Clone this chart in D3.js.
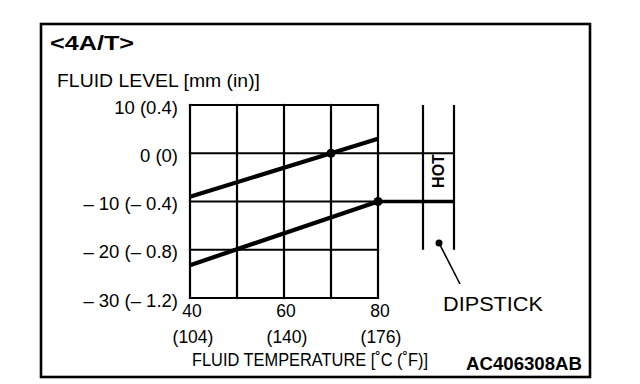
<!DOCTYPE html>
<html><head><meta charset="utf-8">
<script src="https://cdn.jsdelivr.net/npm/d3@7"></script>
<style>html,body{margin:0;padding:0;background:#fff}svg{display:block}text{font-family:"Liberation Sans",Arial,Helvetica,sans-serif;fill:#000}</style>
</head><body><svg id="c" width="640" height="384"></svg>
<script>
// ---- data ----
const title = "<4A/T>";
const yTitle = "FLUID LEVEL [mm (in)]";
const xTitle = "FLUID TEMPERATURE [˚C (˚F)]";
const code = "AC406308AB";
const xGrid = [40, 50, 60, 70, 80];
const yGrid = [10, 0, -10, -20, -30];
const xTickValues = [40, 60, 80];
const xTickC = ["40", "60", "80"];
const xTickF = ["(104)", "(140)", "(176)"];
const yTickLabels = ["10 (0.4)", "0 (0)", "– 10 (– 0.4)", "– 20 (– 0.8)", "– 30 (– 1.2)"];
const upperLine = [[40, -9], [70, 0], [80, 3]];
const lowerLine = [[40, -23.2], [80, -10]];
const markers = [[70, 0], [80, -10]];
const hotBand = [0, -10];      // HOT zone on dipstick
const dipstickRange = [10, -20];

// ---- layout ----
const svg = d3.select("#c");
const x = d3.scaleLinear().domain([40, 80]).range([190, 378]);
const y = d3.scaleLinear().domain([-30, 10]).range([298, 105]);
const dipL = 423, dipR = 454;

svg.append("rect").attr("x", 41).attr("y", 24).attr("width", 549).attr("height", 353)
  .attr("fill", "none").attr("stroke", "#000").attr("stroke-width", 2.6);

svg.append("text").attr("x", 50).attr("y", 50).attr("font-size", 21).attr("font-weight", "bold")
  .attr("textLength", 84).attr("lengthAdjust", "spacingAndGlyphs").text(title);
svg.append("text").attr("x", 57).attr("y", 87).attr("font-size", 19)
  .attr("textLength", 203).attr("lengthAdjust", "spacingAndGlyphs").text(yTitle);

// grid
const g = svg.append("g").attr("stroke", "#000").attr("stroke-width", 2.2).attr("stroke-linecap", "square");
g.selectAll("line.v").data(xGrid).join("line").attr("class", "v")
  .attr("x1", d => x(d)).attr("x2", d => x(d)).attr("y1", y(10)).attr("y2", y(-30));
g.selectAll("line.h").data(yGrid).join("line").attr("class", "h")
  .attr("x1", x(40)).attr("x2", x(80)).attr("y1", d => y(d)).attr("y2", d => y(d));

// dipstick
const dg = svg.append("g").attr("stroke", "#000").attr("stroke-width", 2.2);
[dipL, dipR].forEach(px => dg.append("line").attr("x1", px).attr("x2", px)
  .attr("y1", y(dipstickRange[0])).attr("y2", y(dipstickRange[1])));
dg.append("line").attr("x1", x(80)).attr("x2", dipR).attr("y1", y(hotBand[0])).attr("y2", y(hotBand[0]));
svg.append("line").attr("x1", x(80)).attr("x2", dipR).attr("y1", y(hotBand[1])).attr("y2", y(hotBand[1]))
  .attr("stroke", "#000").attr("stroke-width", 3.5);
svg.append("text").attr("transform", `translate(${(dipL + dipR) / 2 + 5.5},171) rotate(-90)`)
  .attr("text-anchor", "middle").attr("font-size", 16).attr("font-weight", "bold").text("HOT");
svg.append("circle").attr("cx", 439).attr("cy", 243).attr("r", 3.5).attr("fill", "#000");
svg.append("line").attr("x1", 439).attr("y1", 243).attr("x2", 460).attr("y2", 284)
  .attr("stroke", "#000").attr("stroke-width", 1.6);
svg.append("text").attr("x", 443).attr("y", 311).attr("font-size", 20.5)
  .attr("textLength", 100).attr("lengthAdjust", "spacingAndGlyphs").text("DIPSTICK");

// data lines
const line = d3.line().x(d => x(d[0])).y(d => y(d[1]));
[upperLine, lowerLine].forEach(l => svg.append("path").attr("d", line(l))
  .attr("fill", "none").attr("stroke", "#000").attr("stroke-width", 4.2));
svg.selectAll("circle.m").data(markers).join("circle").attr("class", "m")
  .attr("cx", d => x(d[0])).attr("cy", d => y(d[1])).attr("r", 4.5).attr("fill", "#000");

// y tick labels
svg.selectAll("text.yt").data(yGrid).join("text").attr("class", "yt")
  .attr("x", 178).attr("y", d => y(d) + 2).attr("dominant-baseline", "central")
  .attr("text-anchor", "end").attr("font-size", 18.5).text((d, i) => yTickLabels[i]);

// x tick labels
svg.selectAll("text.xc").data(xTickValues).join("text").attr("class", "xc")
  .attr("x", d => x(d) + 2).attr("y", 317).attr("text-anchor", "middle").attr("font-size", 17.5)
  .text((d, i) => xTickC[i]);
svg.selectAll("text.xf").data(xTickValues).join("text").attr("class", "xf")
  .attr("x", d => x(d) + 3).attr("y", 343).attr("text-anchor", "middle").attr("font-size", 17.5)
  .text((d, i) => xTickF[i]);
svg.append("text").attr("x", 192).attr("y", 366).attr("font-size", 17.5)
  .attr("textLength", 236).attr("lengthAdjust", "spacingAndGlyphs").text(xTitle);
svg.append("text").attr("x", 466).attr("y", 370).attr("font-size", 18.5).attr("font-weight", "bold")
  .attr("textLength", 116).attr("lengthAdjust", "spacingAndGlyphs").text(code);
</script></body></html>
